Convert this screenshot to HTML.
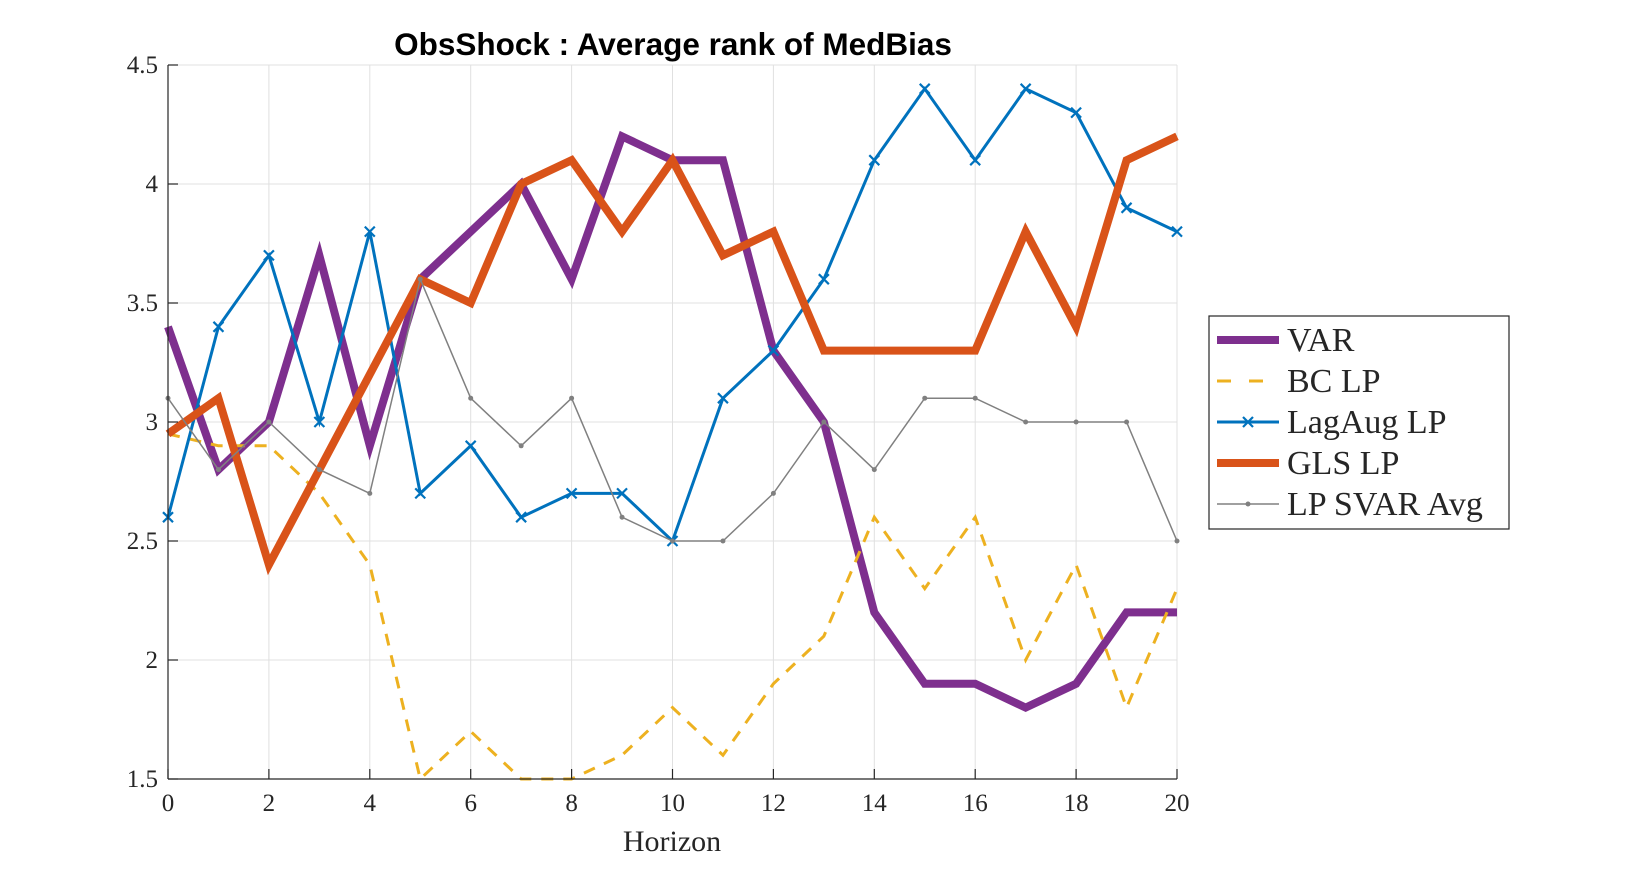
<!DOCTYPE html>
<html><head><meta charset="utf-8"><style>
body{margin:0;background:#fff;}
svg{display:block;}
.tk{font-family:"Liberation Serif",serif;font-size:25px;fill:#262626;}
</style></head><body>
<svg id="chart" width="1633" height="875">
<g id="grid"></g>
<g id="series"></g>
<g id="axes"></g>
<text x="673" y="55" text-anchor="middle" font-family="Liberation Sans,sans-serif" font-weight="bold" font-size="31.5">ObsShock : Average rank of MedBias</text>
<text x="672" y="851" text-anchor="middle" class="tk" style="font-size:30px">Horizon</text>
<g>
<rect x="1209" y="316" width="300" height="213" fill="#fff" stroke="#262626" stroke-width="1.2"/>
<g id="legend-items"></g>
</g>
</svg>
<script>
const horizons=[0,1,2,3,4,5,6,7,8,9,10,11,12,13,14,15,16,17,18,19,20];
const varVals=[3.4,2.8,3.0,3.7,2.9,3.6,3.8,4.0,3.6,4.2,4.1,4.1,3.3,3.0,2.2,1.9,1.9,1.8,1.9,2.2,2.2];
const bcVals=[2.95,2.9,2.9,2.7,2.4,1.5,1.7,1.5,1.5,1.6,1.8,1.6,1.9,2.1,2.6,2.3,2.6,2.0,2.4,1.8,2.3];
const lagAugVals=[2.6,3.4,3.7,3.0,3.8,2.7,2.9,2.6,2.7,2.7,2.5,3.1,3.3,3.6,4.1,4.4,4.1,4.4,4.3,3.9,3.8];
const glsVals=[2.95,3.1,2.4,2.8,3.2,3.6,3.5,4.0,4.1,3.8,4.1,3.7,3.8,3.3,3.3,3.3,3.3,3.8,3.4,4.1,4.2];
const svarVals=[3.1,2.8,3.0,2.8,2.7,3.6,3.1,2.9,3.1,2.6,2.5,2.5,2.7,3.0,2.8,3.1,3.1,3.0,3.0,3.0,2.5];
const xTicks=[0,2,4,6,8,10,12,14,16,18,20];
const yTicks=[1.5,2,2.5,3,3.5,4,4.5];
const yTickLabels=["1.5","2","2.5","3","3.5","4","4.5"];
const seriesNames=["VAR","BC LP","LagAug LP","GLS LP","LP SVAR Avg"];

const X0=168,X1=1177,Y0=779,Y1=65,XMIN=0,XMAX=20,YMIN=1.5,YMAX=4.5;
const sx=v=>X0+(v-XMIN)/(XMAX-XMIN)*(X1-X0);
const sy=v=>Y0-(v-YMIN)/(YMAX-YMIN)*(Y0-Y1);
const NS="http://www.w3.org/2000/svg";
function mk(tag,attrs,parent){const e=document.createElementNS(NS,tag);for(const k in attrs)e.setAttribute(k,attrs[k]);parent.appendChild(e);return e;}
const grid=document.getElementById('grid'),axes=document.getElementById('axes'),ser=document.getElementById('series');
mk('rect',{x:X0,y:Y1,width:X1-X0,height:Y0-Y1,fill:'#fff'},grid);
xTicks.forEach(t=>{
 const l=mk('line',{x1:sx(t),x2:sx(t),y1:Y1,y2:Y0,stroke:'#e0e0e0','stroke-width':1},grid);
 
 
 mk('line',{x1:sx(t),x2:sx(t),y1:Y0,y2:Y0-10,stroke:'#262626','stroke-width':1.2},axes);
 const tx=mk('text',{x:sx(t),y:Y0+32,'text-anchor':'middle',class:'tk'},axes);tx.textContent=t;
 
 
});
yTicks.forEach((t,i)=>{
 const l=mk('line',{x1:X0,x2:X1,y1:sy(t),y2:sy(t),stroke:'#e0e0e0','stroke-width':1},grid);
 
 
 mk('line',{x1:X0,x2:X0+10,y1:sy(t),y2:sy(t),stroke:'#262626','stroke-width':1.2},axes);
 const tx=mk('text',{x:X0-10,y:sy(t)+8,'text-anchor':'end',class:'tk'},axes);tx.textContent=yTickLabels[i];
 
 
});
mk('line',{x1:X0,x2:X0,y1:Y1,y2:Y0,stroke:'#262626','stroke-width':1.2},axes);
mk('line',{x1:X0,x2:X1,y1:Y0,y2:Y0,stroke:'#262626','stroke-width':1.2},axes);

const styles=[
 {vals:varVals,color:'#7E2F8E',w:8,dash:null,marker:null,name:'var-line'},
 {vals:bcVals,color:'#EDB120',w:3,dash:'12 10',marker:null,name:'bc-lp-line'},
 {vals:lagAugVals,color:'#0072BD',w:3,dash:null,marker:'x',name:'lagaug-lp-line'},
 {vals:glsVals,color:'#D95319',w:8,dash:null,marker:null,name:'gls-lp-line'},
 {vals:svarVals,color:'#808080',w:1.5,dash:null,marker:'dot',name:'lp-svar-avg-line'}
];
function drawMarker(type,x,y,color,parent){
 if(type==='x'){const s=5;mk('path',{d:`M${x-s},${y-s}L${x+s},${y+s}M${x-s},${y+s}L${x+s},${y-s}`,stroke:color,'stroke-width':2.2,fill:'none'},parent);}
 else if(type==='dot'){mk('circle',{cx:x,cy:y,r:2.5,fill:color},parent);}
}
styles.forEach(s=>{
 const g=mk('g',{},ser);
 const pts=horizons.map((h,i)=>sx(h)+','+sy(s.vals[i])).join(' ');
 const a={points:pts,fill:'none',stroke:s.color,'stroke-width':s.w,'stroke-linejoin':'miter','stroke-miterlimit':4};
 if(s.dash)a['stroke-dasharray']=s.dash;
 const pl=mk('polyline',a,g);
 
 
 if(s.marker)horizons.forEach((h,i)=>drawMarker(s.marker,sx(h),sy(s.vals[i]),s.color,g));
});
const li=document.getElementById('legend-items');
const rowY=[340,381,422,463,504];
styles.forEach((s,i)=>{
 const g=mk('g',{},li);
 
 
 const a={x1:1217,x2:1279,y1:rowY[i],y2:rowY[i],stroke:s.color,'stroke-width':s.w};
 if(s.dash)a['stroke-dasharray']='14 18';
 mk('line',a,g);
 if(s.marker)drawMarker(s.marker,1248,rowY[i],s.color,g);
 const t=mk('text',{x:1287,y:rowY[i]+11,class:'tk',style:'font-size:34px'},g);t.textContent=seriesNames[i];
});
</script>
</body></html>
